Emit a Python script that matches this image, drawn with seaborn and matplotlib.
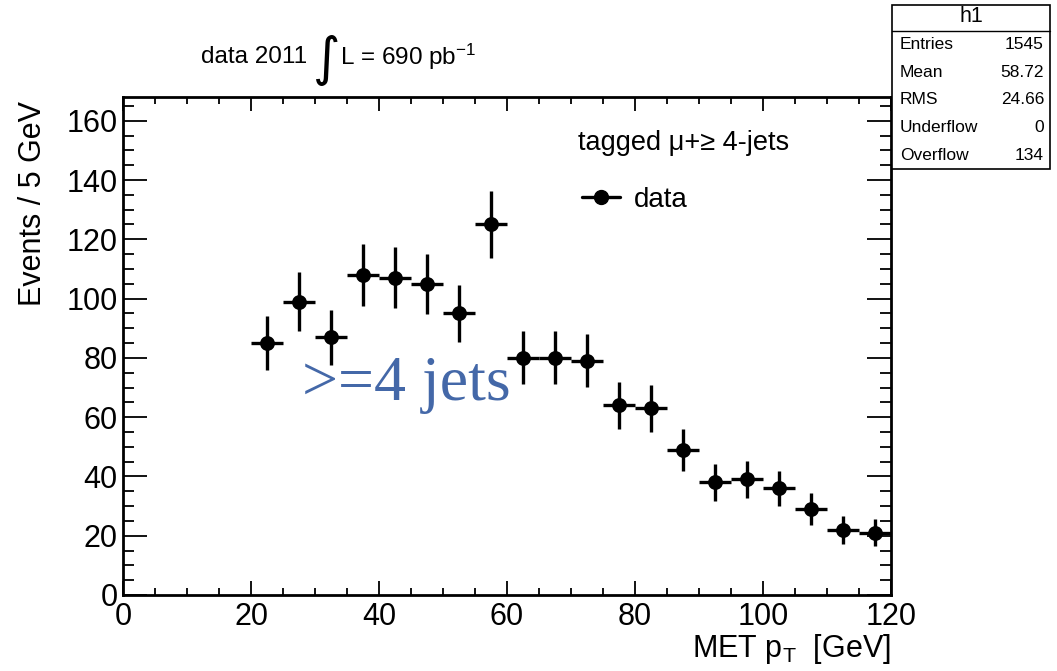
import numpy as np
import pandas as pd
import matplotlib
matplotlib.use("Agg")
import matplotlib.pyplot as plt
from matplotlib.patches import Rectangle
from matplotlib.lines import Line2D
from matplotlib.ticker import MultipleLocator
import seaborn as sns

# ---- data ----
met_centers = [22.5, 27.5, 32.5, 37.5, 42.5, 47.5, 52.5, 57.5, 62.5, 67.5,
               72.5, 77.5, 82.5, 87.5, 92.5, 97.5, 102.5, 107.5, 112.5, 117.5]
events = [85, 99, 87, 108, 107, 105, 95, 125, 80, 80,
          79, 64, 63, 49, 38, 39, 36, 29, 22, 21]
event_err = [9.2, 9.9, 9.3, 10.4, 10.3, 10.2, 9.7, 11.2, 8.9, 8.9,
             8.9, 8.0, 7.9, 7.0, 6.2, 6.2, 6.0, 5.4, 4.7, 4.6]
bin_halfwidth = [2.5] * 20
x_ticks = [0, 20, 40, 60, 80, 100, 120]
y_ticks = [0, 20, 40, 60, 80, 100, 120, 140, 160]

stats_labels = ["Entries", "Mean", "RMS", "Underflow", "Overflow"]
stats_values = ["1545", "58.72", "24.66", "0", "134"]

df = pd.DataFrame({"met": met_centers, "events": events})

sns.set_theme(style="ticks")
plt.rcParams["font.family"] = ["Liberation Sans", "DejaVu Sans"]
plt.rcParams["text.color"] = "black"
plt.rcParams["axes.labelcolor"] = "black"
plt.rcParams["xtick.color"] = "black"
plt.rcParams["ytick.color"] = "black"
plt.rcParams["mathtext.fontset"] = "custom"
plt.rcParams["mathtext.rm"] = "Liberation Sans"
plt.rcParams["mathtext.it"] = "Liberation Sans"

W, H = 1057, 671
fig = plt.figure(figsize=(W / 100, H / 100), dpi=100)
fx = lambda px: px / W
fy = lambda py: 1 - py / H

ax = fig.add_axes([fx(123), fy(595), fx(891) - fx(123), fy(97) - fy(595)])

ax.errorbar(met_centers, events, yerr=event_err, xerr=bin_halfwidth,
            fmt="none", ecolor="black", elinewidth=2.4, capsize=0, zorder=2)
sns.scatterplot(data=df, x="met", y="events", ax=ax, color="black",
                s=115, edgecolor="black", linewidth=0, zorder=3, legend=False)

ax.set_xlim(0, 120)
ax.set_ylim(0, 168)
ax.set_xticks(x_ticks)
ax.set_yticks(y_ticks)
ax.xaxis.set_minor_locator(MultipleLocator(5))
ax.yaxis.set_minor_locator(MultipleLocator(5))
ax.tick_params(axis="both", which="both", direction="in", top=True, right=True,
               colors="black", labelsize=22, width=1.3)
ax.tick_params(axis="x", which="major", length=10, pad=5)
ax.tick_params(axis="x", which="minor", length=5)
ax.tick_params(axis="y", which="major", length=17, pad=4)
ax.tick_params(axis="y", which="minor", length=8)
for s in ax.spines.values():
    s.set_linewidth(2.0)
    s.set_color("black")
    s.set_visible(True)
ax.set_xlabel("")
ax.set_ylabel("")
ax.grid(False)

# axis titles (ROOT style, aligned to the end)
fig.text(fx(891), fy(649), r"MET p$_{\mathregular{T}}$  [GeV]", fontsize=22,
         ha="right", va="center")
fig.text(fx(33), fy(101), "Events / 5 GeV", fontsize=22, rotation=90,
         ha="center", va="top")

# header text
fig.text(fx(307), fy(57), "data 2011", fontsize=17.5, ha="right", va="center")
fig.text(fx(327), fy(60), "\u222B", fontsize=38, ha="center", va="center",
         family=["DejaVu Sans"])
fig.text(fx(340), fy(57), r"L = 690 pb$^{\mathregular{-1}}$", fontsize=17.5,
         ha="left", va="center")

# in-plot labels
fig.text(fx(578), fy(143), "tagged \u03bc+\u2265 4-jets", fontsize=19.5,
         ha="left", va="center")
leg = ax.legend(handles=[Line2D([], [], color="black", marker="o", markersize=10,
                                linewidth=2.4, label="data")],
                loc="center left", bbox_to_anchor=(fx(582), fy(200)),
                bbox_transform=fig.transFigure, frameon=False, fontsize=20,
                handlelength=1.35, handletextpad=0.5, borderpad=0, borderaxespad=0)

fig.text(fx(302), fy(385), ">=4 jets", fontsize=46, color="#4468A8",
         family=["Liberation Serif"], ha="left", va="center")

# stats box
bx0, bx1, by0, by1 = 892, 1050, 5, 169
fig.patches.append(Rectangle((fx(bx0), fy(by1)), fx(bx1) - fx(bx0), fy(by0) - fy(by1),
                             transform=fig.transFigure, facecolor="white",
                             edgecolor="black", linewidth=1.2, zorder=5))
div = 31
fig.add_artist(Line2D([fx(bx0), fx(bx1)], [fy(div), fy(div)], color="black",
                      linewidth=1.0, transform=fig.transFigure, zorder=6))
fig.text(fx((bx0 + bx1) / 2), fy(17), "h1", fontsize=15.5, ha="center", va="center", zorder=7)
row_h = (by1 - div) / len(stats_labels)
for i, (lab, val) in enumerate(zip(stats_labels, stats_values)):
    yc = div + row_h * (i + 0.5)
    fig.text(fx(bx0 + 8), fy(yc), lab, fontsize=12.5, ha="left", va="center", zorder=7)
    fig.text(fx(bx1 - 6), fy(yc), val, fontsize=12.5, ha="right", va="center", zorder=7)

fig.savefig("out.png", dpi=100, facecolor="white")
